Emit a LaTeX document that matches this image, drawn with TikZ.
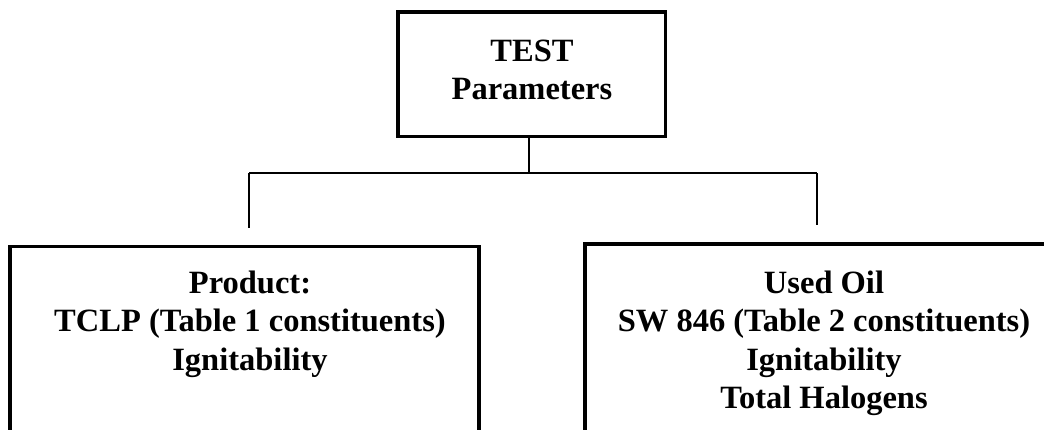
\documentclass[tikz,border=0pt]{standalone}
\usepackage{fontspec}
\setmainfont{Liberation Serif}
\begin{document}
\begin{tikzpicture}[x=1pt,y=-1pt,
  box/.style={draw,line width=3.5pt,minimum width=#1,inner sep=0pt,outer sep=0pt},
  conn/.style={line width=1.6pt},
  toptext/.style={anchor=base,font=\fontsize{32.5}{38}\selectfont\bfseries,inner sep=0pt},
  bottext/.style={anchor=base,font=\fontsize{32.5}{38}\selectfont\bfseries,inner sep=0pt}]
\useasboundingbox (0,0) rectangle (1044,429);
\clip (0,0) rectangle (1044,429);
% boxes
\node[box=469pt,minimum height=240pt] (left) at (244.5,366.5) {};
\node[box=500pt,minimum height=240pt] (right) at (835,364) {};
\node[box=267.5pt,minimum height=124.5pt] (top) at (531.75,74.25) {};
% texts
\node[toptext] (t1) at (532,61) {TEST};
\node[toptext] (t2) at (532,99) {Parameters};
\node[bottext] (l1) at (250,293) {Product:};
\node[bottext] (l2) at (250,331.5) {TCLP (Table 1 constituents)};
\node[bottext] (l3) at (250,370) {Ignitability};
\node[bottext] (r1) at (824,293) {Used Oil};
\node[bottext] (r2) at (824,331.5) {SW 846 (Table 2 constituents)};
\node[bottext] (r3) at (824,370) {Ignitability};
\node[bottext] (r4) at (824,408.5) {Total Halogens};
% connectors
\coordinate (j) at (529,173);
\coordinate (jl) at (249,173);
\coordinate (jr) at (817,173);
\coordinate (el) at (249,228);
\coordinate (er) at (817,225);
\draw[conn] (top.south -| j) -- (j);
\draw[conn] (jl) -- (jr);
\draw[conn] (jl) -- (el);
\draw[conn] (jr) -- (er);
\end{tikzpicture}
\end{document}
